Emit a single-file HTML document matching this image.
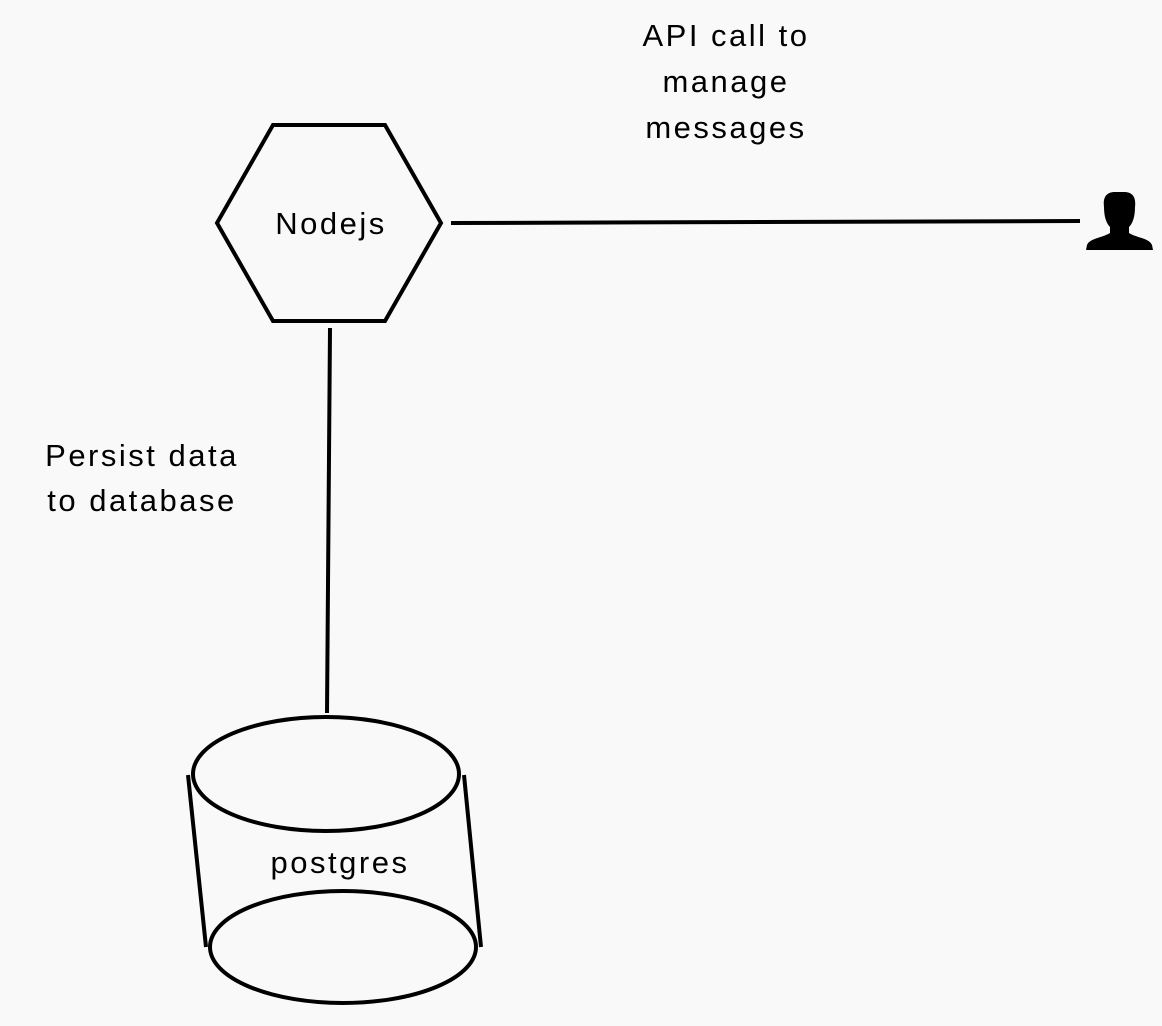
<!DOCTYPE html>
<html><head><meta charset="utf-8"><style>
html,body{margin:0;padding:0;background:#f9f9f9;}
svg{display:block;}
text{font-family:"Liberation Sans",sans-serif;font-size:31px;letter-spacing:2.5px;fill:#000;}
</style></head><body>
<svg width="1162" height="1026" viewBox="0 0 1162 1026" xmlns="http://www.w3.org/2000/svg">
<rect width="1162" height="1026" fill="#f9f9f9"/>
<g fill="none" stroke="#000" stroke-width="4">
<polygon points="217,223 273,125 385,125 441,223 385,321 273,321"/>
<line x1="451" y1="223" x2="1080" y2="221"/>
<line x1="330" y1="328" x2="327" y2="713"/>
<ellipse cx="326" cy="774" rx="133" ry="57"/>
<ellipse cx="343" cy="947" rx="133" ry="56"/>
<line x1="188" y1="775" x2="206" y2="947"/>
<line x1="464" y1="775" x2="481" y2="947"/>
</g>
<g fill="#000">
<path d="M1115,192 C1105,192 1103,199 1104,207 C1104,216 1106,223 1110,227 L1110,233 C1102,238 1090,238 1087,245 L1086,250 L1153,250 L1152,245 C1149,238 1137,238 1129,233 L1129,227 C1133,223 1135,216 1135,207 C1136,199 1134,192 1124,192 Z"/>
</g>
<text x="331" y="234" text-anchor="middle">Nodejs</text>
<text x="340" y="873" text-anchor="middle">postgres</text>
<text x="726" y="46" text-anchor="middle">API call to</text>
<text x="726" y="92" text-anchor="middle">manage</text>
<text x="726" y="138" text-anchor="middle">messages</text>
<text x="142" y="466" text-anchor="middle">Persist data</text>
<text x="142" y="511" text-anchor="middle">to database</text>
</svg>
</body></html>
